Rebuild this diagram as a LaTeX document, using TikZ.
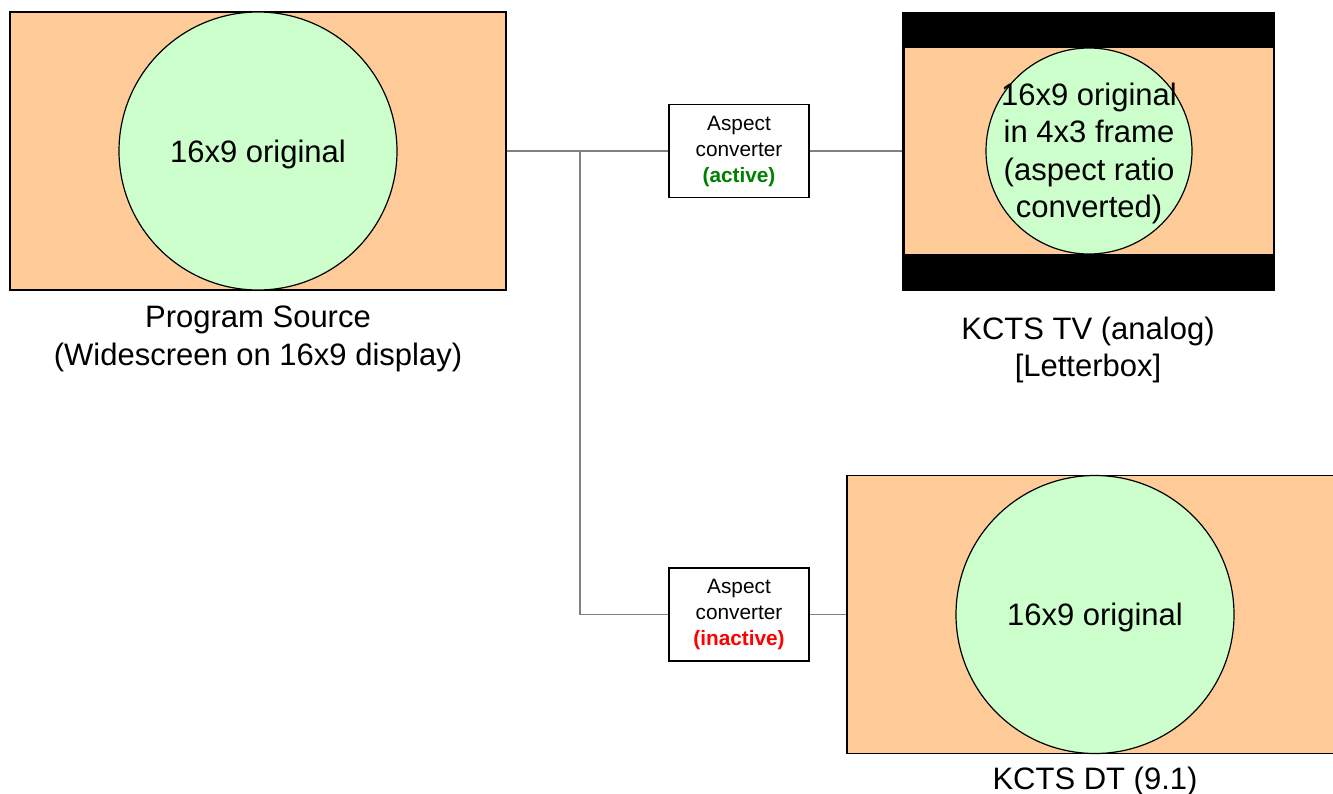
\documentclass[tikz,border=0pt]{standalone}
\usepackage{fontspec}
\setmainfont{Liberation Sans}
\usepackage{xcolor}
\usepackage{tikz}
\usetikzlibrary{positioning}

\definecolor{screenorange}{RGB}{255,204,153}
\definecolor{picgreen}{RGB}{204,255,204}
\definecolor{wiregray}{RGB}{128,128,128}
\definecolor{okgreen}{RGB}{0,128,0}

\begin{document}
\begin{tikzpicture}[x=0.5pt,y=-0.5pt]
        \def\bigfont{\fontsize{15.5}{18.7}\selectfont}
        \def\smallfont{\fontsize{10.4}{13}\selectfont}
        \def\wirey{151}

        \tikzset{
           screen/.style={draw, line width=0.7pt, fill=screenorange,
              minimum width=248pt, minimum height=139pt, inner sep=0pt},
           framepic/.style={circle, draw, line width=0.6pt, fill=picgreen,
              minimum size=139pt, inner sep=0pt},
           pictext/.style={align=center, font=\bigfont, inner sep=0pt},
           converter/.style={draw, line width=0.7pt, fill=white, align=center,
              minimum width=70pt, minimum height=46.5pt, inner sep=0pt, font=\smallfont},
           screencap/.style={align=center, font=\bigfont},
           wire/.style={draw=wiregray, line width=0.6pt}
        }
        \clip (0,0) rectangle (1333,793);

        % Program source
        \node[screen] (src) at (258,\wirey) {};
        \node[framepic] (srcpic) at (258,\wirey) {};
        \node[pictext] (srctext) at (258,154) {16x9 original};
        \node[screencap] (srccap) at (258,339) {Program Source\\(Widescreen on 16x9 display)};

        % Converters
        \node[converter] (conv1) at (739,\wirey)
              {Aspect\\converter\\\textbf{\textcolor{okgreen}{(active)}}};
        \node[converter] (conv2) at (739,614.5)
              {Aspect\\converter\\\textbf{\textcolor{red}{(inactive)}}};

        % KCTS TV (letterbox)
        \node[draw, fill=black, minimum width=186pt, minimum height=139pt, inner sep=0pt] (tv) at (1088,\wirey) {};
        \node[fill=screenorange, minimum width=184pt, minimum height=103pt, inner sep=0pt] (tvband) at (1088.5,\wirey) {};
        \node[framepic, minimum size=103pt] (tvpic) at (1089,\wirey) {};
        \node[pictext] (tvtext) at (1089,153.5) {16x9 original\\in 4x3 frame\\(aspect ratio\\converted)};
        \node[screencap] (tvcap) at (1088,350) {KCTS TV (analog)\\{}[Letterbox]};

        % KCTS DT
        \node[screen] (dt) at (1095,614.5) {};
        \node[framepic] (dtpic) at (1095,614.5) {};
        \node[pictext] (dttext) at (1095,617.5) {16x9 original};
        \node[screencap] (dtcap) at (1095,781) {KCTS DT (9.1)};

        % Lines
        \coordinate (split) at (580,\wirey);
        \draw[wire] (src.east) -- (conv1.west);
        \draw[wire] (split) |- (conv2.west);
        \draw[wire] (conv1.east) -- (tv.west);
        \draw[wire] (conv2.east) -- (dt.west);
\end{tikzpicture}
\end{document}
